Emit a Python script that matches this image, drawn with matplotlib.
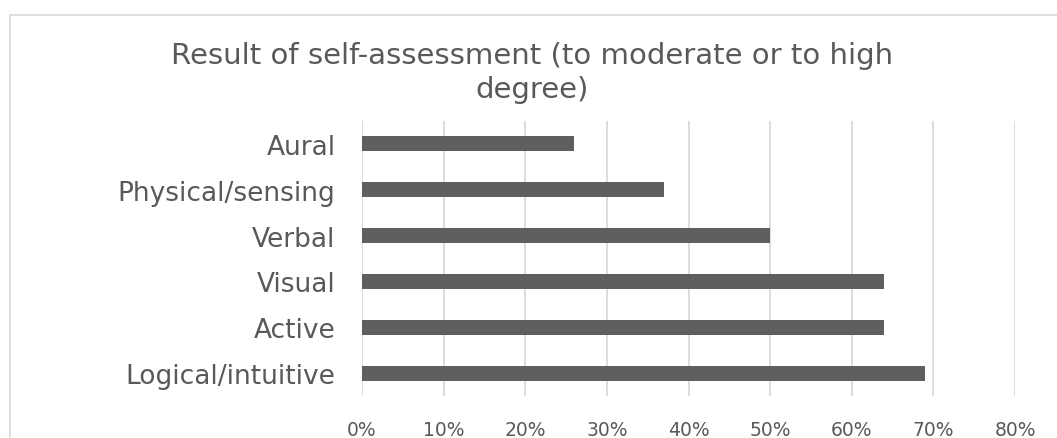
import matplotlib
matplotlib.use("Agg")
import matplotlib.pyplot as plt
from matplotlib.patches import Rectangle
from matplotlib.ticker import PercentFormatter

# self-assessment results, top row first
categories = ["Aural", "Physical/sensing", "Verbal", "Visual", "Active", "Logical/intuitive"]
shares = [0.26, 0.37, 0.50, 0.64, 0.64, 0.69]
x_ticks = [0.0, 0.1, 0.2, 0.3, 0.4, 0.5, 0.6, 0.7, 0.8]

text_color = "#595959"
bar_color = "#5f5f5f"
grid_color = "#d9d9d9"

fig = plt.figure(figsize=(10.57, 4.39), dpi=100)
fig.patch.set_facecolor("white")

# chart area border
fig.patches.append(Rectangle((10 / 1057, -0.2), 1.2, (439 - 16) / 439 + 0.2,
                             transform=fig.transFigure, fill=False,
                             edgecolor=grid_color, linewidth=1.2))

ax = fig.add_axes([362 / 1057, 1 - 397 / 439, (1015 - 362) / 1057, (397 - 122) / 439])

positions = list(range(len(categories)))
ax.barh(positions, shares, height=0.33, color=bar_color, zorder=3)
ax.set_ylim(len(categories) - 0.5, -0.5)
ax.set_yticks(positions)
ax.set_yticklabels(categories)
ax.set_xlim(0, 0.8)
ax.set_xticks(x_ticks)
ax.xaxis.set_major_formatter(PercentFormatter(1.0, decimals=0))

ax.grid(axis="x", color=grid_color, linewidth=1.3, zorder=0)
for spine in ax.spines.values():
    spine.set_visible(False)
ax.tick_params(axis="y", length=0, pad=19, labelsize=19, labelcolor=text_color)
ax.tick_params(axis="x", length=0, pad=17, labelsize=13.5, labelcolor=text_color)

fig.text(532 / 1057, 1 - 42 / 439,
         "Result of self-assessment (to moderate or to high\ndegree)",
         ha="center", va="top", fontsize=21, color=text_color, linespacing=1.27)

fig.savefig("out.png", dpi=100)
